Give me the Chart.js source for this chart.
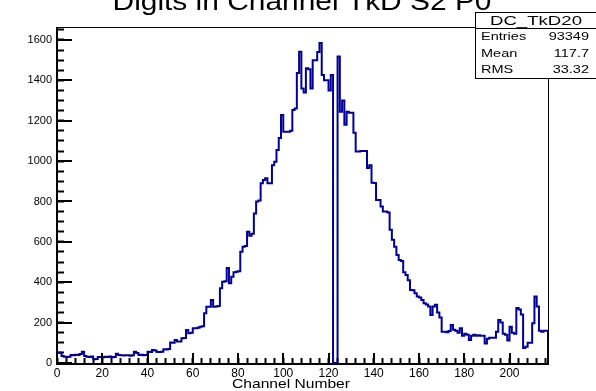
<!DOCTYPE html>
<html>
<head>
<meta charset="utf-8">
<script src="https://cdn.jsdelivr.net/npm/chart.js@4.4.1/dist/chart.umd.min.js"></script>
<style>
  html, body { margin: 0; padding: 0; background: #fff; }
  canvas { display: block; }
</style>
</head>
<body>
<canvas id="tkd-chart" width="596" height="391"></canvas>
<script>
const histTitle = 'Digits in Channel TkD S2 P0';
const xTitle = 'Channel Number';
const nChannels = 217;

// digits per channel, one entry per bin starting at channel 0
const channelCounts = [
  48, 52, 51, 35, 31, 30, 31, 40, 38, 41,
  40, 44, 56, 35, 31, 30, 32, 18, 20, 30,
  30, 28, 31, 30, 32, 29, 30, 46, 40, 38,
  37, 38, 39, 36, 38, 56, 50, 40, 41, 39,
  40, 56, 55, 64, 62, 55, 54, 56, 68, 67,
  69, 101, 100, 114, 106, 106, 122, 124, 163, 147,
  150, 172, 172, 175, 180, 182, 246, 279, 279, 312,
  279, 280, 282, 370, 403, 405, 470, 395, 427, 450,
  452, 455, 551, 576, 580, 650, 630, 640, 740, 800,
  805, 890, 906, 915, 890, 890, 980, 997, 1055, 1114,
  1228, 1146, 1146, 1146, 1150, 1253, 1260, 1436, 1542, 1360,
  1340, 1460, 1455, 1360, 1500, 1500, 1540, 1585, 1426, 1400,
  1400, 1350, 1426, 0, 0, 1518, 1245, 1300, 1180, 1245,
  1240, 1240, 1140, 1047, 1047, 1050, 1050, 1050, 966, 980,
  893, 891, 807, 807, 775, 750, 750, 745, 660, 610,
  576, 535, 510, 505, 450, 436, 410, 362, 360, 345,
  330, 325, 312, 296, 290, 280, 238, 280, 288, 250,
  225, 155, 155, 152, 158, 188, 165, 160, 150, 172,
  135, 145, 140, 114, 135, 140, 135, 138, 135, 135,
  97, 120, 125, 125, 125, 155, 213, 200, 145, 140,
  112, 180, 150, 145, 272, 265, 240, 74, 80, 100,
  100, 197, 330, 280, 160, 155, 160
];

const xTicks = [0, 20, 40, 60, 80, 100, 120, 140, 160, 180, 200];
const yTicks = [0, 200, 400, 600, 800, 1000, 1200, 1400, 1600];
const xMinorStep = 4;
const yMinorStep = 50;

const statsName = 'DC_TkD20';
const statsLabels = ['Entries', 'Mean', 'RMS'];
const statsValues = ['93349', '117.7', '33.32'];

const FONT = '"Liberation Sans", Arial, Helvetica, sans-serif';
const LINE_COLOR = '#000099';

// histogram outline: step from each bin's lower edge, closed to zero at both ends
const outline = [{ x: 0, y: 0 }];
channelCounts.forEach((c, i) => outline.push({ x: i, y: c }));
outline.push({ x: nChannels, y: channelCounts[nChannels - 1] });
outline.push({ x: nChannels, y: 0 });

const yMax = Math.max(...channelCounts) * 1.05;

// every tick position (minor and major) along each axis
const xMarks = [];
for (let v = 0; v <= nChannels; v += xMinorStep) xMarks.push(v);
const yMarks = [];
for (let v = 0; v <= yMax; v += yMinorStep) yMarks.push(v);

function wideText(ctx, text, x, y, size, sx, align) {
  ctx.save();
  ctx.translate(x, y);
  ctx.scale(sx, 1);
  ctx.font = size + 'px ' + FONT;
  ctx.textAlign = align;
  ctx.textBaseline = 'alphabetic';
  ctx.fillStyle = '#000';
  ctx.fillText(text, 0, 0);
  ctx.restore();
}

// frame, longer major ticks, titles and the stats box
const rootPad = {
  id: 'rootPad',
  beforeDraw(chart) {
    const ctx = chart.ctx;
    ctx.save();
    ctx.fillStyle = '#fff';
    ctx.fillRect(0, 0, chart.width, chart.height);
    ctx.restore();
  },
  afterDraw(chart) {
    const ctx = chart.ctx;
    const a = chart.chartArea;
    const xs = chart.scales.x;
    const ys = chart.scales.y;
    const x0 = Math.round(a.left);
    const x1 = Math.round(a.right);
    const y0 = Math.round(a.top);
    const y1 = Math.round(a.bottom);

    ctx.save();
    ctx.fillStyle = '#000';
    ctx.fillRect(x0, y0, x1 - x0 + 1, 1);
    ctx.fillRect(x0 - 1, y1, x1 - x0 + 2, 2);
    ctx.fillRect(x0 - 1, y0, 2, y1 - y0 + 2);
    ctx.fillRect(x1, y0, 1, y1 - y0 + 1);
    xTicks.forEach(v => {
      const px = Math.round(xs.getPixelForValue(v));
      ctx.fillRect(px - 1, y1 - 10, 2, 10);
    });
    yTicks.forEach(v => {
      const py = Math.round(ys.getPixelForValue(v));
      ctx.fillRect(x0, py - 1, 15, 2);
    });
    ctx.restore();

    wideText(ctx, histTitle, 302, 10, 26, 1.15, 'center');
    wideText(ctx, xTitle, 291, 388, 13, 1.2, 'center');

    // stats box
    const bx = 475, by = 12, bw = 124, bh = 66;
    ctx.save();
    ctx.fillStyle = '#fff';
    ctx.fillRect(bx, by, bw, bh);
    ctx.strokeStyle = '#000';
    ctx.lineWidth = 1;
    ctx.strokeRect(bx + 0.5, by + 0.5, bw, bh);
    ctx.beginPath();
    ctx.moveTo(bx, 28.5);
    ctx.lineTo(bx + bw, 28.5);
    ctx.stroke();
    ctx.restore();
    wideText(ctx, statsName, 536, 25, 12, 1.55, 'center');
    const rowY = [40, 57, 73];
    statsLabels.forEach((l, i) => {
      wideText(ctx, l, 481, rowY[i], 10, 1.45, 'left');
      wideText(ctx, statsValues[i], 589, rowY[i], 10, 1.45, 'right');
    });
  }
};

new Chart(document.getElementById('tkd-chart'), {
  type: 'line',
  data: {
    datasets: [{
      data: outline,
      stepped: 'after',
      borderColor: LINE_COLOR,
      borderWidth: 2,
      pointRadius: 0,
      fill: false
    }]
  },
  options: {
    responsive: false,
    animation: false,
    layout: { padding: { top: 27, right: 48, bottom: 0, left: 0 } },
    plugins: {
      legend: { display: false },
      tooltip: { enabled: false }
    },
    scales: {
      x: {
        type: 'linear',
        min: 0,
        max: nChannels,
        // negative tick length turns the tick marks into the frame
        grid: {
          display: true,
          drawOnChartArea: false,
          drawTicks: true,
          tickLength: -5,
          tickColor: '#000',
          tickWidth: 2
        },
        border: { display: false },
        afterBuildTicks: s => { s.ticks = xMarks.map(v => ({ value: v })); },
        afterFit: s => { s.height = 28; },
        ticks: {
          autoSkip: false,
          maxRotation: 0,
          minRotation: 0,
          padding: 8,
          color: '#000',
          font: { family: FONT, size: 12 },
          callback: v => (xTicks.indexOf(v) >= 0 ? String(v) : '')
        }
      },
      y: {
        min: 0,
        max: yMax,
        grid: {
          display: true,
          drawOnChartArea: false,
          drawTicks: true,
          tickLength: -7,
          tickColor: '#000',
          tickWidth: 2
        },
        border: { display: false },
        afterBuildTicks: s => { s.ticks = yMarks.map(v => ({ value: v })); },
        afterFit: s => { s.width = 57; },
        ticks: {
          autoSkip: false,
          padding: 12,
          color: '#000',
          font: { family: FONT, size: 11 },
          callback: v => (yTicks.indexOf(v) >= 0 ? String(v) : '')
        }
      }
    }
  },
  plugins: [rootPad]
});
</script>
</body>
</html>
